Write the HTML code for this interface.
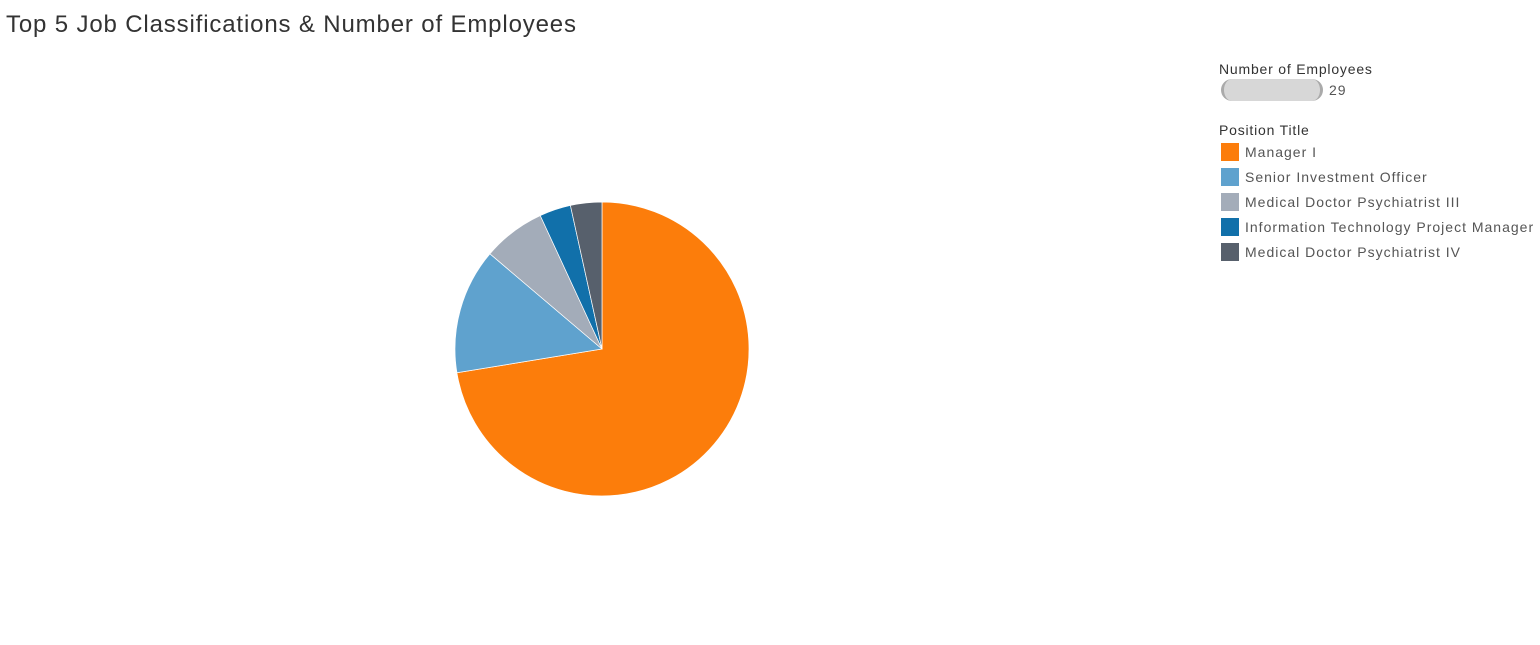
<!DOCTYPE html>
<html><head><meta charset="utf-8"><style>
body{margin:0;width:1540px;height:645px;background:#fff;font-family:"Liberation Sans",sans-serif;overflow:hidden;position:relative}
.title{position:absolute;left:6px;top:11px;font-size:24px;color:#333;letter-spacing:0.85px}
.lg{position:absolute;left:1219px;color:#333;font-size:14px;letter-spacing:0.8px}
.item{position:absolute;left:1219px;font-size:14px;color:#555;height:18px;line-height:18px;letter-spacing:1px}
.sw{display:inline-block;width:18px;height:18px;vertical-align:top;margin-right:8px}
</style></head><body>
<div class="title">Top 5 Job Classifications &amp; Number of Employees</div>
<svg id="pie" width="1540" height="645" style="position:absolute;left:0;top:0"></svg>
<div class="lg" style="top:61px">Number of Employees</div>
<div style="position:absolute;left:1221px;top:79px;width:102px;height:22px;background:#d7d7d7;border-radius:11px;border-left:3px solid #aaa;border-right:3px solid #aaa;box-sizing:border-box"></div>
<div style="position:absolute;left:1329px;top:82px;font-size:14px;color:#555;letter-spacing:1px">29</div>
<div class="lg" style="top:122px">Position Title</div>
<div id="legend"></div>
<script>
const categories=["Manager I","Senior Investment Officer","Medical Doctor Psychiatrist III","Information Technology Project Manager","Medical Doctor Psychiatrist IV"];
const values=[21,4,2,1,1];
const colors=["#fc7d0b","#5fa2ce","#a3acb9","#1170aa","#57606c"];
const svg=document.getElementById('pie');
const cx=602,cy=349,r=147;
const total=values.reduce((a,b)=>a+b,0);
let a0=0;
function pt(a){return [cx+r*Math.sin(a),cy-r*Math.cos(a)];}
values.forEach((v,i)=>{
  const a1=a0+v/total*2*Math.PI;
  const p0=pt(a0),p1=pt(a1);
  const large=(a1-a0)>Math.PI?1:0;
  const p=document.createElementNS('http://www.w3.org/2000/svg','path');
  p.setAttribute('d',`M${cx},${cy} L${p0[0]},${p0[1]} A${r},${r} 0 ${large} 1 ${p1[0]},${p1[1]} Z`);
  p.setAttribute('fill',colors[i]);
  p.setAttribute('stroke','#fff');
  p.setAttribute('stroke-width','0.7');
  
  
  svg.appendChild(p);
  a0=a1;
});
const lg=document.getElementById('legend');
categories.forEach((c,i)=>{
  const d=document.createElement('div');
  d.className='item';
  d.style.top=(143+i*25)+'px';
  d.innerHTML=`<span class="sw" style="background:${colors[i]};margin-left:2px;margin-right:6px"></span>${c}`;
  
  
  lg.appendChild(d);
});
</script>
</body></html>
